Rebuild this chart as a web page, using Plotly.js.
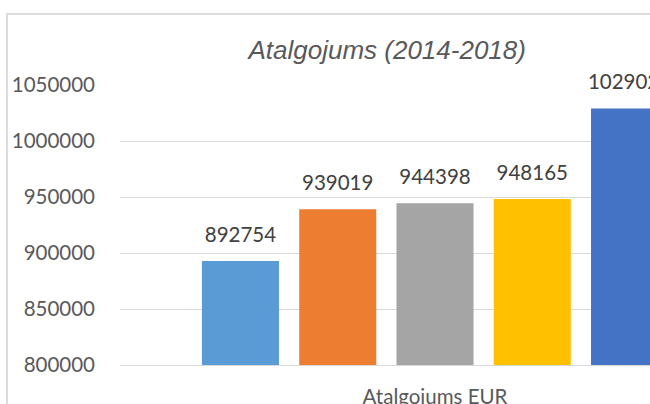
<!DOCTYPE html>
<html>
<head>
<meta charset="utf-8">
<script src="https://cdn.plot.ly/plotly-3.0.1.min.js"></script>
<style>
  html, body { margin: 0; padding: 0; width: 650px; height: 404px; overflow: hidden; background: #ffffff; }
  #frame { position: absolute; left: 6px; top: 13px; border: 2px solid #dcdcdc; background: #ffffff; }
</style>
</head>
<body>
<div id="frame"><div id="chart"></div></div>
<script>
// ---- data ----
const chartTitle = 'Atalgojums (2014-2018)';
const category = 'Atalgojums EUR';
const years = ['2014', '2015', '2016', '2017', '2018'];
const values = [892754, 939019, 944398, 948165, 1029020];
const yRange = [800000, 1050000];
const yStep = 50000;

// ---- style ----
const colors = ['#5B9BD5', '#ED7D31', '#A5A5A5', '#FFC000', '#4472C4'];
const tickFont = { family: 'Lato, "Open Sans", sans-serif', size: 20.5, color: '#595959' };
const labelFont = { family: 'Lato, "Open Sans", sans-serif', size: 20.5, color: '#404040' };
const GAP = 0.228;

const bars = years.map((yr, i) => ({
  type: 'bar',
  name: yr,
  x: [category],
  y: [values[i]],
  marker: { color: colors[i] },
  hoverinfo: 'skip',
  showlegend: false
}));

// value labels, grouped the same way as the bars
const labels = years.map((yr, i) => ({
  type: 'scatter',
  mode: 'markers+text',
  name: yr + ' label',
  x: [category],
  y: [values[i]],
  text: [String(values[i])],
  textposition: 'top center',
  textfont: labelFont,
  marker: { size: 20.8, opacity: 0, color: colors[i] },
  cliponaxis: false,
  hoverinfo: 'skip',
  showlegend: false
}));

const layout = {
  width: 800,
  height: 420,
  margin: { l: 112, r: 58, t: 70, b: 70 },
  paper_bgcolor: '#ffffff',
  plot_bgcolor: '#ffffff',
  barmode: 'group',
  bargap: GAP,
  bargroupgap: 0.208,
  scattermode: 'group',
  scattergap: GAP,
  title: {
    text: '<i>' + chartTitle + '</i>',
    font: { family: '"Liberation Sans", Arial, sans-serif', size: 26, color: '#595959' },
    xref: 'container', x: 0.474, xanchor: 'center',
    yref: 'container', y: 0.917, yanchor: 'middle'
  },
  xaxis: {
    type: 'category',
    showgrid: false,
    showline: true,
    linecolor: '#d9d9d9',
    linewidth: 1,
    ticks: '',
    tickfont: tickFont,
    ticklabelstandoff: 13,
    fixedrange: true
  },
  yaxis: {
    range: yRange,
    dtick: yStep,
    tick0: yRange[0],
    tickformat: 'd',
    showgrid: true,
    gridcolor: '#d9d9d9',
    gridwidth: 1,
    zeroline: false,
    showline: false,
    ticks: '',
    tickfont: tickFont,
    ticklabelstandoff: 24,
    fixedrange: true
  }
};

Plotly.newPlot('chart', bars.concat(labels), layout, { displayModeBar: false, staticPlot: true });
</script>
</body>
</html>
